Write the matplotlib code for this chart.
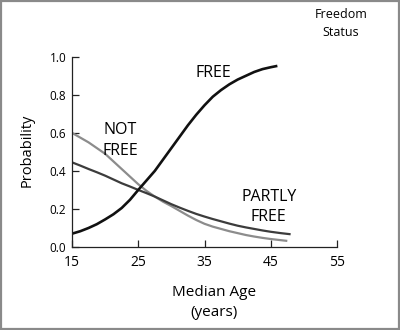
import numpy as np
import matplotlib.pyplot as plt
from matplotlib.patches import Rectangle

plt.rcParams['font.family'] = ['Open Sans', 'DejaVu Sans']

# values
age_free = [15, 16.25, 17.5, 18.75, 20, 21.25, 22.5, 23.75, 25, 26.25, 27.5, 28.75, 30,
            31.25, 32.5, 33.75, 35, 36.25, 37.5, 38.75, 40, 41.25, 42.5, 43.75, 45, 46]
p_free = [0.07, 0.083, 0.10, 0.12, 0.145, 0.172, 0.205, 0.248, 0.30, 0.35, 0.40, 0.46, 0.52,
          0.58, 0.64, 0.695, 0.745, 0.79, 0.825, 0.855, 0.88, 0.90, 0.92, 0.935, 0.945, 0.952]

age_not = [15, 16.25, 17.5, 18.75, 20, 21.25, 22.5, 23.75, 25, 26.25, 27.5, 28.75, 30,
           31.25, 32.5, 33.75, 35, 36.25, 37.5, 38.75, 40, 41.25, 42.5, 43.75, 45, 46.25, 47.5]
p_not = [0.60, 0.575, 0.55, 0.52, 0.49, 0.45, 0.41, 0.37, 0.33, 0.295, 0.265, 0.238, 0.215,
         0.19, 0.165, 0.142, 0.122, 0.107, 0.095, 0.083, 0.073, 0.063, 0.055, 0.048, 0.042, 0.037, 0.032]

age_partly = [15, 16.25, 17.5, 18.75, 20, 21.25, 22.5, 23.75, 25, 26.25, 27.5, 28.75, 30,
              31.25, 32.5, 33.75, 35, 36.25, 37.5, 38.75, 40, 41.25, 42.5, 43.75, 45, 46.5, 48]
p_partly = [0.445, 0.428, 0.41, 0.393, 0.375, 0.355, 0.335, 0.318, 0.30, 0.283, 0.265, 0.245, 0.225,
            0.207, 0.19, 0.174, 0.16, 0.147, 0.135, 0.123, 0.112, 0.103, 0.095, 0.087, 0.08, 0.073, 0.067]

xticks = [15, 25, 35, 45, 55]
yticks = [0.0, 0.2, 0.4, 0.6, 0.8, 1.0]

fig = plt.figure(figsize=(4, 3.3), dpi=100)
ax = fig.add_axes([0.18, 0.2515, 0.6625, 0.5765])

ax.plot(age_not, p_not, color='#8c8c8c', lw=1.6, solid_capstyle='butt', solid_joinstyle='round')
ax.plot(age_partly, p_partly, color='#3c3c3c', lw=1.6, solid_capstyle='butt', solid_joinstyle='round')
ax.plot(age_free, p_free, color='#111111', lw=1.9, solid_capstyle='butt', solid_joinstyle='round')

ax.set_xlim(15, 55)
ax.set_ylim(0, 1)
ax.set_xticks(xticks)
ax.set_xticklabels([str(t) for t in xticks], fontsize=10)
ax.set_yticks(yticks)
ax.set_yticklabels(['%.1f' % t for t in yticks], fontsize=8.5)
ax.tick_params(direction='in', length=5, width=0.9, color='#222222')
ax.tick_params(axis='y', pad=4)
ax.tick_params(axis='x', pad=6)
for s in ['top', 'right']:
    ax.spines[s].set_visible(False)
for s in ['left', 'bottom']:
    ax.spines[s].set_linewidth(0.9)
    ax.spines[s].set_color('#222222')

ax.text(36.4, 0.915, 'FREE', fontsize=11.5, ha='center', va='center')
ax.text(22.3, 0.56, 'NOT\nFREE', fontsize=11.5, ha='center', va='center', linespacing=1.35)
ax.text(44.7, 0.21, 'PARTLY\nFREE', fontsize=11.5, ha='center', va='center', linespacing=1.35)

fig.text(27 / 400, 1 - 150 / 330, 'Probability', rotation=90, fontsize=10.5, ha='center', va='center')
fig.text(214 / 400, 1 - 292 / 330, 'Median Age', fontsize=11, ha='center', va='center')
fig.text(214 / 400, 1 - 312 / 330, '(years)', fontsize=11, ha='center', va='center')
fig.text(341 / 400, 1 - 14 / 330, 'Freedom', fontsize=9, ha='center', va='center')
fig.text(341 / 400, 1 - 33 / 330, 'Status', fontsize=9, ha='center', va='center')

fig.patches.append(Rectangle((0.003, 0.004), 0.994, 0.992, transform=fig.transFigure,
                             fill=False, edgecolor='#8a8a8a', lw=1.6))

fig.savefig('out.png', dpi=100)
